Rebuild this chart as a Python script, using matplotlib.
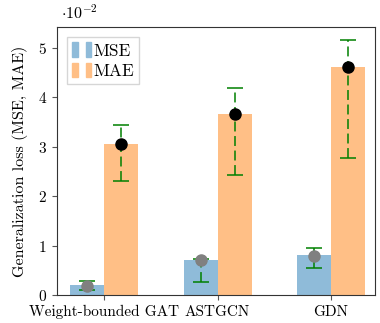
import matplotlib

matplotlib.use("Agg")
import matplotlib.pyplot as plt
import numpy as np
from matplotlib.legend_handler import HandlerTuple
from matplotlib.patches import Patch

plt.rcParams["font.family"] = ["cmr10", "DejaVu Serif"]
plt.rcParams["mathtext.fontset"] = "cm"
plt.rcParams["axes.formatter.use_mathtext"] = True

# values in units of 1e-2
models = ["Weight-bounded GAT", "ASTGCN", "GDN"]
mse_bar = [0.21, 0.71, 0.81]
mae_bar = [3.06, 3.66, 4.61]
mse_mean = [0.19, 0.71, 0.80]
mae_mean = [3.05, 3.66, 4.61]
mse_lo = [0.11, 0.26, 0.55]
mse_hi = [0.29, 0.74, 0.95]
mae_lo = [2.31, 2.43, 2.77]
mae_hi = [3.45, 4.19, 5.16]

blue = "#8fbbd9"
orange = "#ffbf86"
green = "#008000"
width = 0.3

fig = plt.figure(figsize=(3.8, 3.23), dpi=100)
ax = fig.add_axes([0.149, 0.086, 0.838, 0.831])

x = np.arange(len(models))
ax.bar(x - width / 2, mse_bar, width, color=blue, zorder=1)
ax.bar(x + width / 2, mae_bar, width, color=orange, zorder=1)


def draw_err(xs, mean, lo, hi, dot_color):
    mean = np.asarray(mean)
    yerr = [mean - np.asarray(lo), np.asarray(hi) - mean]
    _, caps, bars = ax.errorbar(xs, mean, yerr=yerr, fmt="none", ecolor=green,
                                elinewidth=1.1, capsize=6, capthick=1.1, zorder=2)
    for b in bars:
        b.set_linestyle((0, (6.5, 3)))
    ax.plot(xs, mean, "o", color=dot_color, markersize=8, zorder=3)


draw_err(x - width / 2, mse_mean, mse_lo, mse_hi, "#808080")
draw_err(x + width / 2, mae_mean, mae_lo, mae_hi, "black")

ax.set_xticks(x)
ax.set_xticklabels(models)
ax.set_xlim(-0.42, 2.39)
ax.set_ylim(0, 5.43)
ax.set_yticks([0, 1, 2, 3, 4, 5])
ax.set_ylabel("Generalization loss (MSE, MAE)", fontsize=11.5, labelpad=7)
ax.tick_params(labelsize=11, color="#555555")
for s in ax.spines.values():
    s.set_color("#333333")
ax.text(0.015, 1.02, r"$\cdot 10^{-2}$", transform=ax.transAxes, fontsize=11.5,
        ha="left", va="bottom")

handles = [(Patch(color=blue), Patch(color=blue)),
           (Patch(color=orange), Patch(color=orange))]
ax.legend(handles, ["MSE", "MAE"], loc="upper left", fontsize=12.5,
          handler_map={tuple: HandlerTuple(ndivide=2, pad=0.45)},
          handlelength=1.1, handleheight=0.9, handletextpad=0.1, fancybox=False,
          edgecolor="#cccccc", borderpad=0.3, labelspacing=0.25,
          borderaxespad=0.6)

fig.savefig("out.png", dpi=100)
